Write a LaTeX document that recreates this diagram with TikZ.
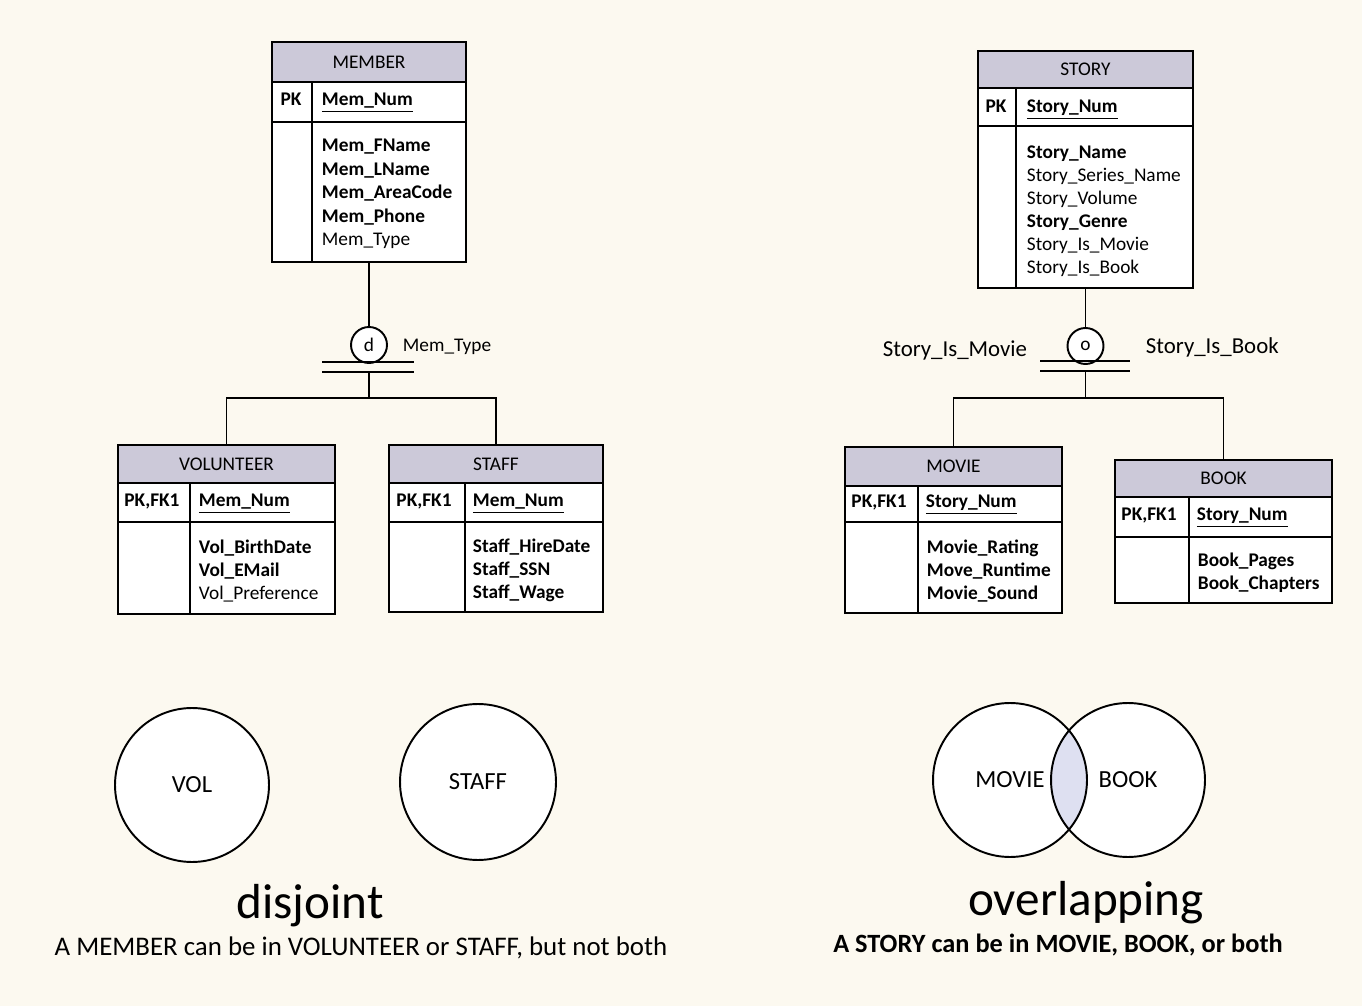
\documentclass[tikz,border=0pt]{standalone}
\usepackage{fontspec}
\setmainfont{Carlito}
\usetikzlibrary{positioning}
\definecolor{paper}{RGB}{252,249,240}
\definecolor{hdrgray}{RGB}{204,201,217}
\definecolor{setlav}{RGB}{222,224,241}

\tikzset{
  entity/.style={draw, line width=1.1pt, fill=white, inner sep=0pt},
  head/.style={draw, line width=1.1pt, fill=hdrgray, inner sep=0pt, font=\fontsize{11}{13}\selectfont},
  attr/.style={anchor=west, inner sep=0pt, text height=1.6ex, text depth=.45ex, font=\fontsize{11}{13}\selectfont},
  keycol/.style={inner sep=0pt, text height=1.6ex, text depth=.45ex, font=\bfseries\fontsize{11}{13}\selectfont},
  gencircle/.style={circle, draw, line width=1.1pt, fill=white, minimum size=0.72cm, inner sep=0pt, font=\fontsize{11}{13}\selectfont},
  lbl/.style={inner sep=0pt, font=\fontsize{11}{13}\selectfont},
  setcircle/.style={circle, draw, line width=1.1pt, minimum size=3.08cm, inner sep=0pt, font=\fontsize{14}{16}\selectfont}
}

\begin{document}
\begin{tikzpicture}[x=0.02cm, y=-0.02cm, line width=1.1pt]
			\useasboundingbox (0,0) rectangle (1362,1006);
			\fill[paper] (0,0) rectangle (1362,1006);

			% supertype MEMBER
			\node[entity, minimum width=3.88cm, minimum height=4.4cm] (member) at (369,152) {};
			\node[head, minimum width=3.88cm, minimum height=0.8cm, anchor=north] (memberh) at (member.north) {MEMBER};
			\draw (272,122) -- (466,122);
			\draw (312,82) -- (312,262);
			\node[keycol] (memberpk) at (291,101) {PK};
			\node[attr, font=\bfseries\fontsize{11}{13}\selectfont] (memberid) at (321,101) {\underline{Mem\_Num}};
			\foreach \a [count=\i] in {\textbf{Mem\_FName}, \textbf{Mem\_LName}, \textbf{Mem\_AreaCode}, \textbf{Mem\_Phone}, Mem\_Type}
			\node[attr] (memberatt\i) at (321,{147+(\i-1)*23.5}) {\a};

			% supertype STORY
			\node[entity, minimum width=4.3cm, minimum height=4.74cm] (story) at (1085.5,169.5) {};
			\node[head, minimum width=4.3cm, minimum height=0.74cm, anchor=north] (storyh) at (story.north) {STORY};
			\draw (978,126) -- (1193,126);
			\draw (1016,88) -- (1016,288);
			\node[keycol] (storypk) at (996,108) {PK};
			\node[attr, font=\bfseries\fontsize{11}{13}\selectfont] (storyid) at (1026,108) {\underline{Story\_Num}};
			\foreach \a [count=\i] in {\textbf{Story\_Name}, Story\_Series\_Name, Story\_Volume, \textbf{Story\_Genre}, Story\_Is\_Movie, Story\_Is\_Book}
			\node[attr] (storyatt\i) at (1026,{154+(\i-1)*23}) {\a};

			% subtype VOLUNTEER
			\node[entity, minimum width=4.34cm, minimum height=3.38cm] (vol) at (226.5,529.5) {};
			\node[head, minimum width=4.34cm, minimum height=0.76cm, anchor=north] (volh) at (vol.north) {VOLUNTEER};
			\draw (118,522) -- (335,522);
			\draw (190,483) -- (190,614);
			\node[keycol] (volpk) at (152,502) {PK,FK1};
			\node[attr, font=\bfseries\fontsize{11}{13}\selectfont] (volid) at (198,502) {\underline{Mem\_Num}};
			\foreach \a [count=\i] in {\textbf{Vol\_BirthDate}, \textbf{Vol\_EMail}, Vol\_Preference}
			\node[attr] (volatt\i) at (198,{549+(\i-1)*23}) {\a};

			% subtype STAFF
			\node[entity, minimum width=4.28cm, minimum height=3.34cm] (staff) at (496,528.5) {};
			\node[head, minimum width=4.28cm, minimum height=0.76cm, anchor=north] (staffh) at (staff.north) {STAFF};
			\draw (389,522) -- (603,522);
			\draw (465,483) -- (465,612);
			\node[keycol] (staffpk) at (424,502) {PK,FK1};
			\node[attr, font=\bfseries\fontsize{11}{13}\selectfont] (staffid) at (472,502) {\underline{Mem\_Num}};
			\foreach \a [count=\i] in {\textbf{Staff\_HireDate}, \textbf{Staff\_SSN}, \textbf{Staff\_Wage}}
			\node[attr] (staffatt\i) at (472,{548+(\i-1)*23}) {\a};

			% subtype MOVIE
			\node[entity, minimum width=4.34cm, minimum height=3.32cm] (movie) at (953.5,530) {};
			\node[head, minimum width=4.34cm, minimum height=0.78cm, anchor=north] (movieh) at (movie.north) {MOVIE};
			\draw (845,522) -- (1062,522);
			\draw (918,486) -- (918,613);
			\node[keycol] (moviepk) at (879,503) {PK,FK1};
			\node[attr, font=\bfseries\fontsize{11}{13}\selectfont] (movieid) at (925,503) {\underline{Story\_Num}};
			\foreach \a [count=\i] in {\textbf{Movie\_Rating}, \textbf{Move\_Runtime}, \textbf{Movie\_Sound}}
			\node[attr] (movieatt\i) at (926,{549+(\i-1)*23}) {\a};

			% subtype BOOK
			\node[entity, minimum width=4.34cm, minimum height=2.86cm] (book) at (1223.5,531.5) {};
			\node[head, minimum width=4.34cm, minimum height=0.74cm, anchor=north] (bookh) at (book.north) {BOOK};
			\draw (1115,537) -- (1332,537);
			\draw (1189,497) -- (1189,603);
			\node[keycol] (bookpk) at (1149,516) {PK,FK1};
			\node[attr, font=\bfseries\fontsize{11}{13}\selectfont] (bookid) at (1196,516) {\underline{Story\_Num}};
			\foreach \a [count=\i] in {\textbf{Book\_Pages}, \textbf{Book\_Chapters}}
			\node[attr] (bookatt\i) at (1197,{562+(\i-1)*23}) {\a};

			% disjoint specialization
			\node[gencircle] (memd) at (369,345) {d};
			\node[lbl, anchor=west] (memdisc) at (402,347) {Mem\_Type};
			\coordinate (membar) at (369,372);
			\coordinate (memj) at (369,398);
			\draw (member.south) -- (memd.north);
			\draw (322,362) -- (414,362);
			\draw (322,372) -- (414,372);
			\draw (membar) -- (memj);
			\draw (vol.north) |- (memj) -| (staff.north);

			% overlapping specialization
			\node[gencircle] (storyo) at (1085.5,346) {o};
			\node[lbl, anchor=east, font=\fontsize{13}{15}\selectfont] (storymov) at (1028,350) {Story\_Is\_Movie};
			\node[lbl, anchor=west, font=\fontsize{13}{15}\selectfont] (storybk) at (1145,347) {Story\_Is\_Book};
			\coordinate (storybar) at (1085.5,371);
			\coordinate (storyj) at (1085.5,398);
			\draw (story.south) -- (storyo.north);
			\draw (1040,361) -- (1130,361);
			\draw (1040,371) -- (1130,371);
			\draw (storybar) -- (storyj);
			\draw (movie.north) |- (storyj) -| (book.north);

			% set pictures
			\node[setcircle, fill=white] (volset) at (192,785) {VOL};
			\node[setcircle, fill=white, minimum size=3.12cm] (staffset) at (478,782) {STAFF};

			\fill[white] (1010,780) circle (77);
			\fill[white] (1128,780) circle (77);
			\begin{scope}
				\clip (1010,780) circle (77);
				\fill[setlav] (1128,780) circle (77);
			\end{scope}
			\node[setcircle] (movieset) at (1010,780) {MOVIE};
			\node[setcircle] (bookset) at (1128,780) {BOOK};

			% captions
			\node[lbl, font=\fontsize{28}{32}\selectfont] (disj) at (310,906) {disjoint};
			\node[lbl, font=\fontsize{15.3}{18}\selectfont] (disjtxt) at (361,948) {A MEMBER can be in VOLUNTEER or STAFF, but not both};
			\node[lbl, font=\fontsize{28}{32}\selectfont] (ovl) at (1086,903) {overlapping};
			\node[lbl, font=\bfseries\fontsize{15}{18}\selectfont] (ovltxt) at (1058,945) {A STORY can be in MOVIE, BOOK, or both};
		\end{tikzpicture}
\end{document}
